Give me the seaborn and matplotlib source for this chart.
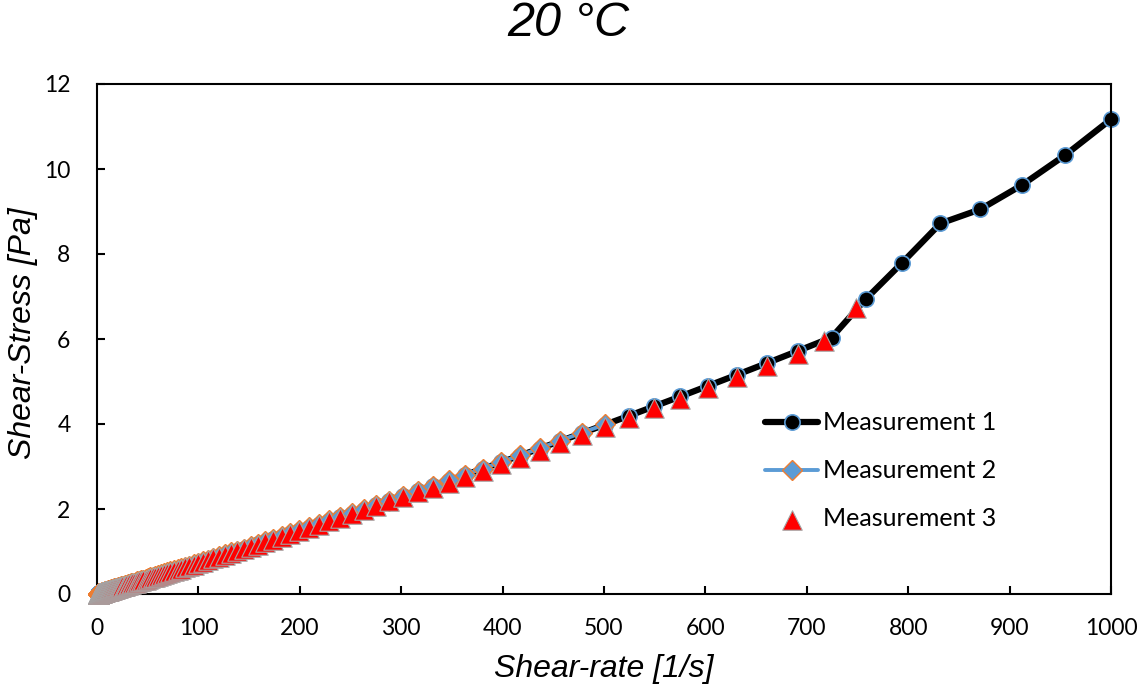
import matplotlib
matplotlib.use("Agg")
import matplotlib.pyplot as plt
import seaborn as sns

# ---------------- data ----------------
shear_rate = [
    1.000, 1.047, 1.096, 1.148, 1.202, 1.259, 1.318, 1.380, 1.445, 1.514,
    1.585, 1.660, 1.738, 1.820, 1.905, 1.995, 2.089, 2.188, 2.291, 2.399,
    2.512, 2.630, 2.754, 2.884, 3.020, 3.162, 3.311, 3.467, 3.631, 3.802,
    3.981, 4.169, 4.365, 4.571, 4.786, 5.012, 5.248, 5.495, 5.754, 6.026,
    6.310, 6.607, 6.918, 7.244, 7.586, 7.943, 8.318, 8.710, 9.120, 9.550,
    10.00, 10.47, 10.96, 11.48, 12.02, 12.59, 13.18, 13.80, 14.45, 15.14,
    15.85, 16.60, 17.38, 18.20, 19.05, 19.95, 20.89, 21.88, 22.91, 23.99,
    25.12, 26.30, 27.54, 28.84, 30.20, 31.62, 33.11, 34.67, 36.31, 38.02,
    39.81, 41.69, 43.65, 45.71, 47.86, 50.12, 52.48, 54.95, 57.54, 60.26,
    63.10, 66.07, 69.18, 72.44, 75.86, 79.43, 83.18, 87.10, 91.20, 95.50,
    100.0, 104.7, 109.6, 114.8, 120.2, 125.9, 131.8, 138.0, 144.5, 151.4,
    158.5, 166.0, 173.8, 182.0, 190.5, 199.5, 208.9, 218.8, 229.1, 239.9,
    251.2, 263.0, 275.4, 288.4, 302.0, 316.2, 331.1, 346.7, 363.1, 380.2,
    398.1, 416.9, 436.5, 457.1, 478.6, 501.2, 524.8, 549.5, 575.4, 602.6,
    631.0, 660.7, 691.8, 724.4, 758.6, 794.3, 831.8, 871.0, 912.0, 955.0,
    1000.0,
]

stress_1 = [
    0.007, 0.007, 0.008, 0.008, 0.009, 0.009, 0.009, 0.010, 0.010, 0.011,
    0.011, 0.012, 0.012, 0.013, 0.014, 0.014, 0.015, 0.016, 0.016, 0.017,
    0.018, 0.019, 0.020, 0.020, 0.021, 0.022, 0.024, 0.025, 0.026, 0.027,
    0.028, 0.030, 0.031, 0.032, 0.034, 0.036, 0.037, 0.039, 0.041, 0.043,
    0.045, 0.047, 0.049, 0.051, 0.054, 0.056, 0.059, 0.062, 0.065, 0.068,
    0.071, 0.074, 0.078, 0.082, 0.086, 0.090, 0.094, 0.098, 0.103, 0.108,
    0.113, 0.118, 0.124, 0.130, 0.136, 0.142, 0.149, 0.156, 0.164, 0.171,
    0.180, 0.188, 0.197, 0.206, 0.216, 0.226, 0.237, 0.248, 0.260, 0.272,
    0.285, 0.299, 0.313, 0.328, 0.344, 0.360, 0.377, 0.395, 0.414, 0.434,
    0.455, 0.476, 0.499, 0.523, 0.548, 0.575, 0.602, 0.631, 0.662, 0.694,
    0.727, 0.762, 0.799, 0.838, 0.878, 0.921, 0.965, 1.012, 1.061, 1.114,
    1.168, 1.225, 1.285, 1.349, 1.414, 1.484, 1.557, 1.635, 1.716, 1.801,
    1.891, 1.985, 2.084, 2.189, 2.299, 2.415, 2.537, 2.666, 2.802, 2.945,
    3.096, 3.255, 3.423, 3.601, 3.787, 3.986, 4.194, 4.415, 4.648, 4.896,
    5.157, 5.433, 5.725, 6.035, 6.95, 7.80, 8.72, 9.05, 9.62, 10.33,
    11.17,
]

stress_2 = [
    0.01, 0.01, 0.01, 0.01, 0.01, 0.01, 0.01, 0.01, 0.01, 0.01,
    0.01, 0.01, 0.01, 0.01, 0.01, 0.01, 0.02, 0.02, 0.02, 0.02,
    0.02, 0.02, 0.02, 0.02, 0.02, 0.02, 0.02, 0.03, 0.03, 0.03,
    0.03, 0.03, 0.03, 0.03, 0.03, 0.04, 0.04, 0.04, 0.04, 0.04,
    0.05, 0.05, 0.05, 0.05, 0.05, 0.06, 0.06, 0.06, 0.07, 0.07,
    0.08, 0.08, 0.09, 0.09, 0.09, 0.10, 0.10, 0.11, 0.11, 0.12,
    0.12, 0.13, 0.13, 0.14, 0.15, 0.15, 0.16, 0.17, 0.17, 0.18,
    0.19, 0.20, 0.21, 0.22, 0.23, 0.24, 0.25, 0.26, 0.27, 0.28,
    0.30, 0.31, 0.32, 0.34, 0.35, 0.37, 0.39, 0.40, 0.42, 0.44,
    0.46, 0.49, 0.51, 0.53, 0.56, 0.58, 0.61, 0.64, 0.67, 0.70,
    0.74, 0.77, 0.81, 0.85, 0.89, 0.93, 0.98, 1.02, 1.07, 1.12,
    1.18, 1.24, 1.30, 1.36, 1.43, 1.50, 1.57, 1.65, 1.73, 1.81,
    1.90, 2.00, 2.10, 2.20, 2.31, 2.43, 2.55, 2.68, 2.81, 2.95,
    3.10, 3.26, 3.43, 3.61, 3.80, 3.99,
]
rate_2 = shear_rate[:136]

stress_3 = [
    0.01, 0.01, 0.01, 0.01, 0.01, 0.01, 0.01, 0.01, 0.01, 0.01,
    0.01, 0.01, 0.01, 0.01, 0.01, 0.01, 0.02, 0.02, 0.02, 0.02,
    0.02, 0.02, 0.02, 0.02, 0.02, 0.02, 0.02, 0.02, 0.03, 0.03,
    0.03, 0.03, 0.03, 0.03, 0.03, 0.04, 0.04, 0.04, 0.04, 0.04,
    0.04, 0.05, 0.05, 0.05, 0.05, 0.06, 0.06, 0.06, 0.06, 0.07,
    0.07, 0.07, 0.08, 0.08, 0.09, 0.09, 0.09, 0.10, 0.10, 0.11,
    0.11, 0.12, 0.12, 0.13, 0.14, 0.14, 0.15, 0.16, 0.16, 0.17,
    0.18, 0.19, 0.20, 0.21, 0.22, 0.23, 0.24, 0.25, 0.26, 0.27,
    0.28, 0.30, 0.31, 0.33, 0.34, 0.36, 0.38, 0.39, 0.41, 0.43,
    0.45, 0.47, 0.50, 0.52, 0.55, 0.57, 0.60, 0.63, 0.66, 0.69,
    0.72, 0.76, 0.80, 0.84, 0.88, 0.92, 0.96, 1.01, 1.06, 1.11,
    1.16, 1.22, 1.28, 1.34, 1.41, 1.48, 1.55, 1.63, 1.71, 1.80,
    1.89, 1.98, 2.08, 2.18, 2.28, 2.39, 2.50, 2.62, 2.76, 2.90,
    3.05, 3.20, 3.37, 3.55, 3.74, 3.94, 4.15, 4.37, 4.60, 4.84,
    5.10, 5.37, 5.64, 5.96, 6.74,
]
rate_3 = shear_rate[:143] + [717.0, 749.0]

series_labels = ["Measurement 1", "Measurement 2", "Measurement 3"]
x_ticks = [0, 100, 200, 300, 400, 500, 600, 700, 800, 900, 1000]
y_ticks = [0, 2, 4, 6, 8, 10, 12]

# ---------------- style ----------------
sns.set_style("white")
plt.rcParams["font.family"] = ["Lato", "DejaVu Sans"]
plt.rcParams["text.color"] = "black"
plt.rcParams["xtick.color"] = "black"
plt.rcParams["ytick.color"] = "black"

W, H = 1139, 691
fig = plt.figure(figsize=(W / 100, H / 100), dpi=100)
ax = fig.add_axes([97 / W, 1 - 594 / H, (1111 - 97) / W, (594 - 84) / H])

sns.lineplot(x=shear_rate, y=stress_1, ax=ax, color="black", linewidth=4.5,
             marker="o", markersize=11, markerfacecolor="black",
             markeredgecolor="#5B9BD5", markeredgewidth=1.2,
             label=series_labels[0], sort=False, estimator=None,
             errorbar=None, clip_on=False, zorder=2)
sns.lineplot(x=rate_2, y=stress_2, ax=ax, color="#5B9BD5", linewidth=2.8,
             marker="D", markersize=10, markerfacecolor="#5B9BD5",
             markeredgecolor="#ED7D31", markeredgewidth=1.0,
             label=series_labels[1], sort=False, estimator=None,
             errorbar=None, clip_on=False, zorder=3)
sns.scatterplot(x=rate_3, y=stress_3, ax=ax, marker="^", s=14 ** 2,
                color="#FF0000", edgecolor="#A5A5A5", linewidth=0.8,
                label=series_labels[2], clip_on=False, zorder=4)

ax.set_xlim(0, 1000)
ax.set_ylim(0, 12)
ax.set_xticks(x_ticks)
ax.set_yticks(y_ticks)
ax.set_xlabel("")
ax.set_ylabel("")
for sp in ax.spines.values():
    sp.set_visible(True)
    sp.set_color("black")
    sp.set_linewidth(1.5)
ax.tick_params(axis="both", direction="in", length=6, width=1.5,
               labelsize=16.5, colors="black", bottom=True, left=True)
ax.tick_params(axis="x", pad=17)
ax.tick_params(axis="y", pad=19)

leg = ax.legend(loc="upper left", bbox_to_anchor=(0.659, 0.358),
                frameon=False, fontsize=18, handlelength=2.12,
                handletextpad=0.2, labelspacing=1.0, borderpad=0,
                borderaxespad=0)
for t in leg.get_texts():
    t.set_color("black")

fig.text(0.499, 1 - 24 / H, "20 °C", ha="center", va="center",
         fontsize=35, style="italic", family="Liberation Sans", color="black")
fig.text(604 / W, 1 - 669 / H, "Shear-rate [1/s]", ha="center", va="center",
         fontsize=23, style="italic", family="Liberation Sans", color="black")
fig.text(23 / W, 1 - 333 / H, "Shear-Stress [Pa]", ha="center", va="center",
         rotation=90, fontsize=23, style="italic", family="Liberation Sans",
         color="black")

fig.savefig("out.png", dpi=100)
